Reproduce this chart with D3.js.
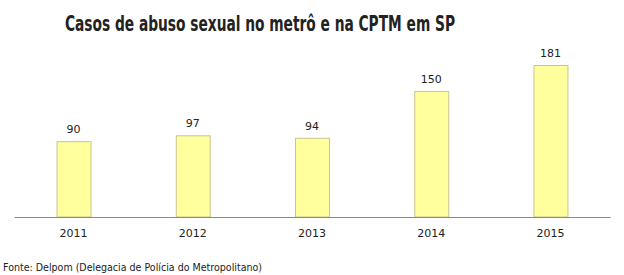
<!DOCTYPE html>
<html>
<head>
<meta charset="utf-8">
<script src="https://cdn.jsdelivr.net/npm/d3@7"></script>
<style>
  body { margin: 0; background: #fff; }
  text { font-family: "DejaVu Sans", Verdana, sans-serif; fill: #222; }
</style>
</head>
<body>
<div class="chart"></div>
<script>
const svgWidth = 624;
const svgHeight = 275;

// data
const years = ["2011", "2012", "2013", "2014", "2015"];
const cases = [90, 97, 94, 150, 181];
const titleText = "Casos de abuso sexual no metrô e na CPTM em SP";
const sourceText = "Fonte: Delpom (Delegacia de Polícia do Metropolitano)";

const margin = { top: 0, right: 14, bottom: 58.5, left: 14 };
const width = svgWidth - margin.left - margin.right;
const height = svgHeight - margin.top - margin.bottom;

const svg = d3.select(".chart")
  .append("svg")
  .attr("width", svgWidth)
  .attr("height", svgHeight);

const chartGroup = svg.append("g")
  .attr("transform", `translate(${margin.left}, ${margin.top})`);

const data = years.map((y, i) => ({ year: y, value: cases[i] }));

const xScale = d3.scaleBand()
  .domain(years)
  .range([0, width])
  .paddingInner(0.715)
  .paddingOuter(0.357);

// 0.837 px per case
const yScale = d3.scaleLinear()
  .domain([0, height / 0.837])
  .range([height, 0]);

// bars
chartGroup.selectAll(".bar")
  .data(data)
  .enter()
  .append("rect")
  .attr("class", "bar")
  .attr("x", d => xScale(d.year) + 0.5)
  .attr("y", d => yScale(d.value) + 0.5)
  .attr("width", xScale.bandwidth())
  .attr("height", d => height - yScale(d.value))
  .attr("fill", "#ffff9e")
  .attr("stroke", "#c9c48f")
  .attr("stroke-width", 1);

// x axis line only
const xAxis = d3.axisBottom(xScale).tickSize(0).tickPadding(12);
const xg = chartGroup.append("g")
  .attr("transform", `translate(0, ${height + 0.5})`)
  .call(xAxis);
xg.select(".domain").attr("stroke", "#8a8a8a");
xg.selectAll("text")
  .attr("font-size", "11px")
  .attr("font-family", "DejaVu Sans, Verdana, sans-serif")
  .attr("fill", "#222");

// value labels
chartGroup.selectAll(".val")
  .data(data)
  .enter()
  .append("text")
  .attr("class", "val")
  .attr("x", d => xScale(d.year) + xScale.bandwidth() / 2)
  .attr("y", d => yScale(d.value) - 8)
  .attr("text-anchor", "middle")
  .attr("font-size", "11px")
  .text(d => d.value);

// title
svg.append("text")
  .attr("x", 260)
  .attr("y", 31)
  .attr("text-anchor", "middle")
  .attr("font-size", "21px")
  .attr("font-weight", "bold")
  .style("font-family", "'Liberation Sans Narrow', 'DejaVu Sans Condensed', sans-serif")
  .attr("textLength", 390)
  .attr("lengthAdjust", "spacingAndGlyphs")
  .attr("fill", "#1e1e1e")
  .text(titleText);

// source note
svg.append("text")
  .attr("x", 3)
  .attr("y", 271)
  .attr("font-size", "11px")
  .attr("textLength", 259)
  .attr("lengthAdjust", "spacingAndGlyphs")
  .text(sourceText);
</script>
</body>
</html>
